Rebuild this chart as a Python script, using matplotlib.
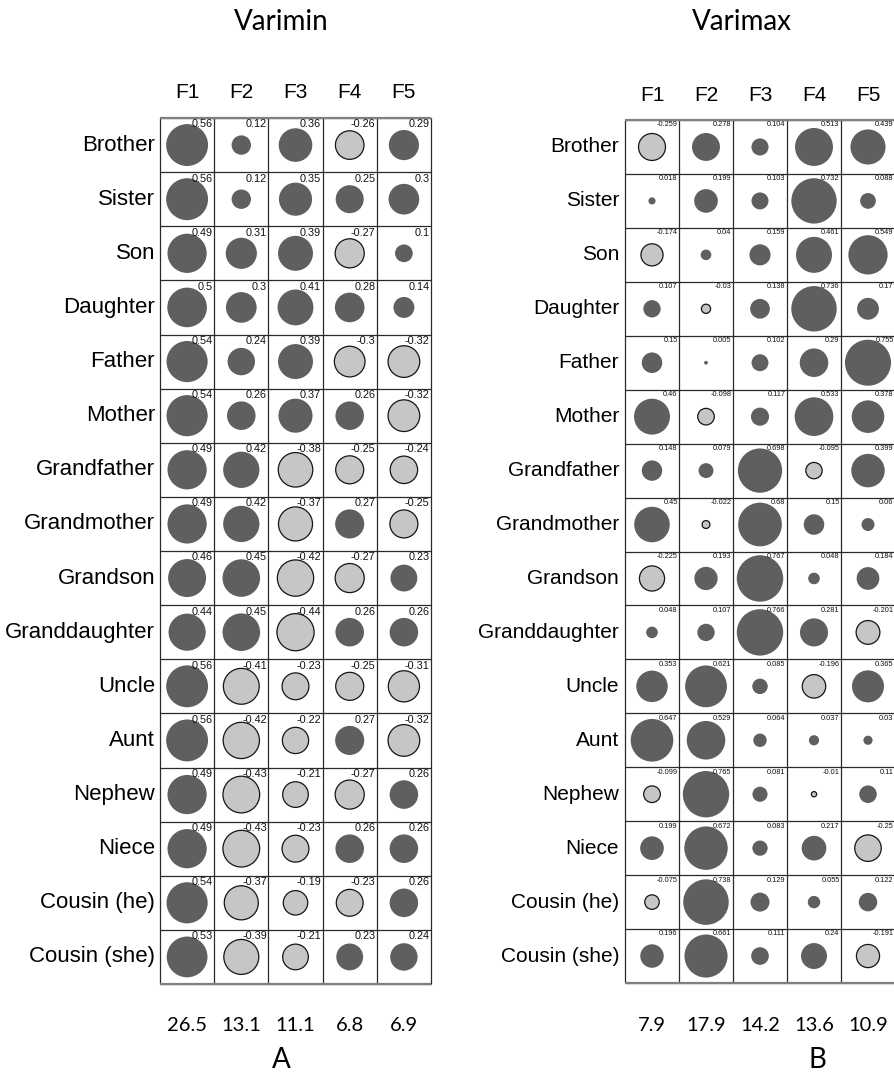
import numpy as np
import matplotlib
matplotlib.use("Agg")
import matplotlib.pyplot as plt

rows = ["Brother", "Sister", "Son", "Daughter", "Father", "Mother", "Grandfather",
        "Grandmother", "Grandson", "Granddaughter", "Uncle", "Aunt", "Nephew",
        "Niece", "Cousin (he)", "Cousin (she)"]
factors = ["F1", "F2", "F3", "F4", "F5"]

varimin = [
    [0.56, 0.12, 0.36, -0.26, 0.29],
    [0.56, 0.12, 0.35, 0.25, 0.3],
    [0.49, 0.31, 0.39, -0.27, 0.1],
    [0.5, 0.3, 0.41, 0.28, 0.14],
    [0.54, 0.24, 0.39, -0.3, -0.32],
    [0.54, 0.26, 0.37, 0.26, -0.32],
    [0.49, 0.42, -0.38, -0.25, -0.24],
    [0.49, 0.42, -0.37, 0.27, -0.25],
    [0.46, 0.45, -0.42, -0.27, 0.23],
    [0.44, 0.45, -0.44, 0.26, 0.26],
    [0.56, -0.41, -0.23, -0.25, -0.31],
    [0.56, -0.42, -0.22, 0.27, -0.32],
    [0.49, -0.43, -0.21, -0.27, 0.26],
    [0.49, -0.43, -0.23, 0.26, 0.26],
    [0.54, -0.37, -0.19, -0.23, 0.26],
    [0.53, -0.39, -0.21, 0.23, 0.24],
]

varimax = [
    [-0.259, 0.278, 0.104, 0.513, 0.439],
    [0.018, 0.199, 0.103, 0.732, 0.088],
    [-0.174, 0.04, 0.159, 0.461, 0.549],
    [0.107, -0.03, 0.138, 0.736, 0.17],
    [0.15, 0.005, 0.102, 0.29, 0.755],
    [0.46, -0.098, 0.117, 0.533, 0.378],
    [0.148, 0.079, 0.698, -0.095, 0.399],
    [0.45, -0.022, 0.68, 0.15, 0.06],
    [-0.225, 0.193, 0.767, 0.048, 0.184],
    [0.048, 0.107, 0.766, 0.281, -0.201],
    [0.353, 0.621, 0.085, -0.196, 0.365],
    [0.647, 0.529, 0.064, 0.037, 0.03],
    [-0.099, 0.765, 0.081, -0.01, 0.11],
    [0.199, 0.672, 0.083, 0.217, -0.25],
    [-0.075, 0.738, 0.129, 0.055, 0.122],
    [0.196, 0.661, 0.111, 0.24, -0.191],
]

var_a = [26.5, 13.1, 11.1, 6.8, 6.9]
var_b = [7.9, 17.9, 14.2, 13.6, 10.9]

W, H, DPI = 895, 1072, 100
fig = plt.figure(figsize=(W / DPI, H / DPI), dpi=DPI)
fig.patch.set_facecolor("white")

ARIAL = "Liberation Sans"
CALIBRI = "Lato"
POS_C = "#5f5f5f"
NEG_C = "#c6c6c6"


def panel(rect_px, data, coef_px, label_fs, val_fs, flab_off, num_off, lab_pad, nums):
    l, r, t, b = rect_px
    ax = fig.add_axes([l / W, 1 - b / H, (r - l) / W, (b - t) / H])
    ax.set_xlim(0, 5)
    ax.set_ylim(16, 0)
    ax.axis("off")
    arr = np.array(data)
    nr, nc = arr.shape
    # grid
    ax.vlines(np.arange(nc + 1), 0, nr, color="#2a2a2a", lw=0.9, clip_on=False)
    ax.hlines(np.arange(nr + 1), 0, nc, color="#2a2a2a", lw=0.9, clip_on=False)
    ax.hlines([0, nr], 0, nc, color="#808080", lw=1.6, clip_on=False)
    xs, ys = np.meshgrid(np.arange(nc) + 0.5, np.arange(nr) + 0.5)
    xs, ys, vals = xs.ravel(), ys.ravel(), arr.ravel()
    sizes = (coef_px * np.sqrt(np.abs(vals)) * 72 / DPI) ** 2
    pos = vals >= 0
    ax.scatter(xs[pos], ys[pos], s=sizes[pos], c=POS_C, edgecolors="none", zorder=3)
    ax.scatter(xs[~pos], ys[~pos], s=sizes[~pos], c=NEG_C, edgecolors="#151515",
               linewidths=0.9, zorder=3)
    for x, y, v in zip(xs, ys, vals):
        ax.annotate(f"{v:g}", (x + 0.5, y - 0.5), xytext=(-1, -1),
                    textcoords="offset points", ha="right", va="top",
                    fontsize=val_fs, family=ARIAL, color="#111111", zorder=5)
    for i, name in enumerate(rows):
        ax.text(-lab_pad, i + 0.5, name, ha="right", va="center",
                fontsize=label_fs, family=ARIAL, color="black")
    for j, f in enumerate(factors):
        ax.text(j + 0.5, -flab_off, f, ha="center", va="center",
                fontsize=15, family=ARIAL, color="black")
    for j, n in enumerate(nums):
        ax.text(j + 0.5, nr + num_off, f"{n:.1f}", ha="center", va="center",
                fontsize=14.5, family=CALIBRI, color="black")
    return ax


panel((160, 431, 118, 984), varimin, 56, 16, 7.8, 0.48, 0.76, 0.09, var_a)
panel((625, 895, 120, 983), varimax, 53, 15, 5.3, 0.46, 0.78, 0.11, var_b)

fig.text(281 / W, 1 - 22 / H, "Varimin", ha="center", va="center",
         fontsize=20, family=CALIBRI)
fig.text(742 / W, 1 - 22 / H, "Varimax", ha="center", va="center",
         fontsize=20, family=CALIBRI)
fig.text(281 / W, 1 - 1060 / H, "A", ha="center", va="center",
         fontsize=20, family=CALIBRI)
fig.text(817 / W, 1 - 1060 / H, "B", ha="center", va="center",
         fontsize=20, family=CALIBRI)

fig.savefig("out.png", dpi=DPI, facecolor="white")
